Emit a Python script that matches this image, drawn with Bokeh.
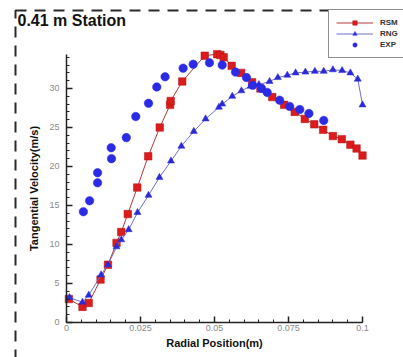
from bokeh.plotting import figure
from bokeh.models import (Range1d, FixedTicker, PrintfTickFormatter, Legend,
                          LegendItem, BoxAnnotation, Label)
from bokeh.embed import file_html
from bokeh.resources import INLINE

# ---- data ----
rsm_x = [0.0008, 0.0054, 0.0075, 0.0115, 0.0140, 0.0169, 0.0185, 0.0207, 0.0239,
         0.0276, 0.0315, 0.0350, 0.0352, 0.0391, 0.0467, 0.0509, 0.0520, 0.0531,
         0.0558, 0.0590, 0.0627, 0.0655, 0.0695, 0.0735, 0.0771, 0.0805, 0.0837,
         0.0867, 0.0900, 0.0930, 0.0959, 0.0980, 0.1000]
rsm_y = [3.0, 2.0, 2.5, 5.5, 7.4, 10.2, 11.6, 13.9, 17.3,
         21.3, 25.0, 27.9, 28.4, 30.9, 34.2, 34.4, 34.3, 34.0,
         32.9, 32.0, 30.8, 30.0, 28.9, 27.9, 27.0, 26.1, 25.4,
         24.7, 23.9, 23.5, 22.8, 22.3, 21.4]

rng_x = [0.0010, 0.0054, 0.0075, 0.0117, 0.0140, 0.0169, 0.0185, 0.0210, 0.0240,
         0.0277, 0.0314, 0.0353, 0.0388, 0.0430, 0.0470, 0.0515, 0.0526, 0.0560,
         0.0591, 0.0622, 0.0650, 0.0686, 0.0714, 0.0746, 0.0774, 0.0807, 0.0839,
         0.0869, 0.0900, 0.0931, 0.0959, 0.0984, 0.1000]
rng_y = [3.2, 2.6, 3.5, 6.1, 7.4, 9.7, 10.6, 11.9, 14.1,
         16.3, 18.6, 20.7, 22.6, 24.5, 26.1, 27.6, 28.0, 29.0,
         29.7, 30.3, 30.5, 30.9, 31.4, 31.7, 32.0, 32.1, 32.2,
         32.2, 32.4, 32.3, 32.0, 31.2, 27.9]

exp_x = [0.0057, 0.0078, 0.0105, 0.0105, 0.0152, 0.0151, 0.0202, 0.0234, 0.0277,
         0.0305, 0.0333, 0.0394, 0.0428, 0.0483, 0.0526, 0.0571, 0.0608, 0.0629,
         0.0659, 0.0678, 0.0720, 0.0754, 0.0788, 0.0819, 0.0869]
exp_y = [14.2, 15.6, 17.9, 19.2, 21.0, 22.4, 23.7, 26.4, 28.1,
         30.2, 31.5, 32.6, 33.1, 33.3, 33.0, 32.1, 31.4, 30.4,
         30.0, 29.5, 28.5, 27.7, 27.3, 26.8, 25.9]

x_major = [0, 0.025, 0.05, 0.075, 0.1]
x_minor = [0, 0.005, 0.01, 0.015, 0.02, 0.025, 0.03, 0.035, 0.04, 0.045, 0.05,
           0.055, 0.06, 0.065, 0.07, 0.075, 0.08, 0.085, 0.09, 0.095, 0.1]
y_major = [0, 5, 10, 15, 20, 25, 30]
y_minor = [0, 1, 2, 3, 4, 5, 6, 7, 8, 9, 10, 11, 12, 13, 14, 15, 16, 17, 18, 19,
           20, 21, 22, 23, 24, 25, 26, 27, 28, 29, 30, 31, 32, 33, 34]

title_text = "0.41 m Station"
x_label = "Radial Position(m)"
y_label = "Tangential Velocity(m/s)"

FONT = "Liberation Sans"
W, H = 403, 357

p = figure(width=W, height=H, output_backend="svg", toolbar_location=None,
           x_range=Range1d(-0.0223, 0.11385), y_range=Range1d(-4.49, 41.28),
           min_border=0, background_fill_color="white",
           border_fill_color="white", outline_line_color=None)
p.title.visible = False
p.grid.visible = False

# axes
for ax in (p.xaxis[0], p.yaxis[0]):
    ax.axis_line_color = "#222222"
    ax.axis_line_width = 1.5
    ax.major_tick_line_color = "#222222"
    ax.major_tick_line_width = 1.5
    ax.minor_tick_line_color = "#222222"
    ax.minor_tick_line_width = 1
    ax.major_tick_in = 6
    ax.major_tick_out = 0
    ax.minor_tick_in = 3
    ax.minor_tick_out = 0
    ax.major_label_text_font = FONT
    ax.major_label_text_font_size = "9px"
    ax.major_label_text_color = "#8a8a8a"
    ax.axis_label_text_font = FONT
    ax.axis_label_text_font_size = "11px"
    ax.axis_label_text_font_style = "bold"
    ax.axis_label_text_color = "#111111"

xa = p.xaxis[0]
xa.ticker = FixedTicker(ticks=x_major, minor_ticks=x_minor)
xa.formatter = PrintfTickFormatter(format="%g")
xa.bounds = (0, 0.1)
xa.fixed_location = 0
xa.axis_label = x_label
xa.major_label_standoff = 3
xa.axis_label_standoff = 2

ya = p.yaxis[0]
ya.ticker = FixedTicker(ticks=y_major, minor_ticks=y_minor)
ya.formatter = PrintfTickFormatter(format="%g")
ya.bounds = (0, 34.4)
ya.fixed_location = 0
ya.axis_label = y_label
ya.major_label_standoff = 7
ya.axis_label_standoff = 6

# series
rsm_line = p.line(rsm_x, rsm_y, line_color="#b03a3a", line_width=1)
rsm_pts = p.scatter(rsm_x, rsm_y, marker="square", size=7.5, fill_color="#dc1c1c",
                    line_color="#b01010", line_width=0.5)
rng_line = p.line(rng_x, rng_y, line_color="#7070c8", line_width=1)
rng_pts = p.scatter(rng_x, rng_y, marker="triangle", size=7, fill_color="#2a2ad8",
                    line_color="#2a2ad8", line_width=0.5)
exp_pts = p.scatter(exp_x, exp_y, marker="circle", size=8.5, fill_color="#2b2be6",
                    line_color="#2b2be6", line_width=0.5)

legend = Legend(items=[LegendItem(label="RSM", renderers=[rsm_line, rsm_pts]),
                       LegendItem(label="RNG", renderers=[rng_line, rng_pts]),
                       LegendItem(label="EXP", renderers=[exp_pts])],
                location=(328, H - 58), orientation="vertical",
                label_text_font=FONT, label_text_font_size="8px",
                label_text_font_style="bold", label_text_color="#333333",
                label_height=8, glyph_height=11, glyph_width=37, spacing=0,
                label_standoff=7, padding=7, margin=0,
                border_line_color="#222222", border_line_width=1.5,
                background_fill_color="white", background_fill_alpha=1)
p.add_layout(legend)

# dashed page frame
frame_box = BoxAnnotation(left=15, right=W + 100, top=H - 10, bottom=-100,
                          left_units="screen", right_units="screen",
                          top_units="screen", bottom_units="screen",
                          fill_color=None, fill_alpha=0, line_color="#2a2a2a",
                          line_alpha=1.0, line_width=2, line_dash="11 8")
p.add_layout(frame_box)

title = Label(x=17, y=H - 11, x_units="screen", y_units="screen", text=title_text,
              text_font=FONT, text_font_size="16px", text_font_style="bold",
              text_color="#111111", text_baseline="top", text_align="left")
p.add_layout(title)

open("out.html", "w").write(file_html(p, INLINE))
